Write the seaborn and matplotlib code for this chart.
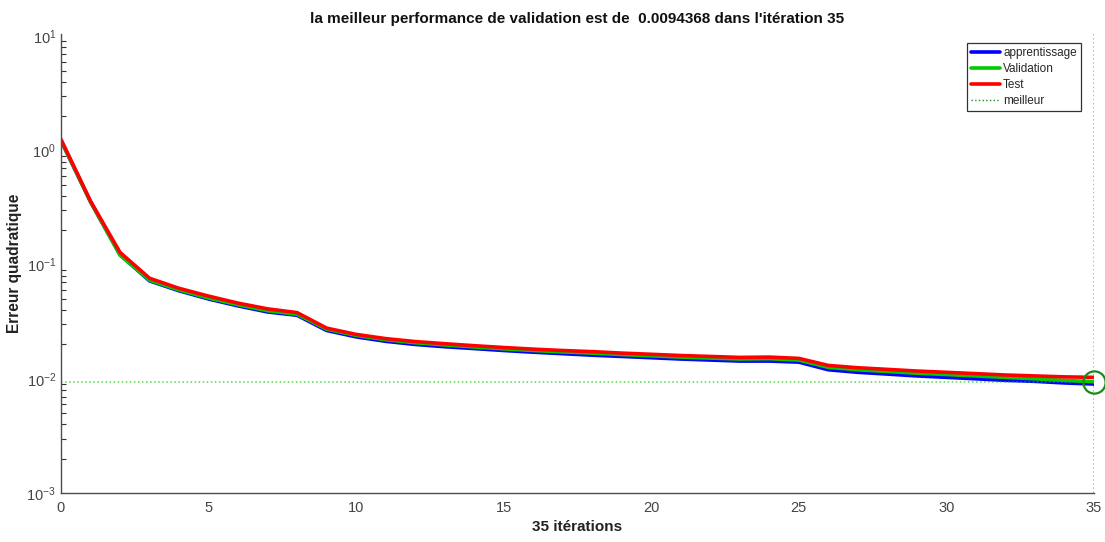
import numpy as np
import pandas as pd
import matplotlib
matplotlib.use("Agg")
import matplotlib.pyplot as plt
import seaborn as sns

# Mean squared error per training epoch
epochs = list(range(36))
train_err = [1.22, 0.355, 0.122, 0.072, 0.059, 0.050, 0.0435, 0.0385, 0.0360, 0.0265,
             0.0233, 0.0213, 0.0200, 0.0191, 0.0184, 0.0177, 0.0171, 0.0166, 0.0161, 0.0157,
             0.0153, 0.0149, 0.0146, 0.0143, 0.0143, 0.0140, 0.0120, 0.0114, 0.0110, 0.0106,
             0.0103, 0.0100, 0.0097, 0.0095, 0.0092, 0.0090]
val_err = [1.22, 0.355, 0.121, 0.073, 0.060, 0.051, 0.0445, 0.0395, 0.0368, 0.0272,
           0.0240, 0.0220, 0.0207, 0.0198, 0.0190, 0.0183, 0.0177, 0.0172, 0.0168, 0.0163,
           0.0159, 0.0155, 0.0152, 0.0149, 0.0150, 0.0146, 0.0126, 0.0120, 0.0116, 0.0112,
           0.0109, 0.0106, 0.0103, 0.0100, 0.0097, 0.0094368]
test_err = [1.25, 0.36, 0.128, 0.076, 0.062, 0.053, 0.046, 0.041, 0.038, 0.0278,
            0.0245, 0.0225, 0.0212, 0.0203, 0.0195, 0.0188, 0.0182, 0.0177, 0.0173, 0.0168,
            0.0164, 0.0160, 0.0157, 0.0154, 0.0155, 0.0151, 0.0131, 0.0125, 0.0121, 0.0117,
            0.0114, 0.0111, 0.0108, 0.0106, 0.0104, 0.0103]
series_names = ["apprentissage", "Validation", "Test"]
best_epoch = 35
best_perf = 0.0094368

df = pd.DataFrame({
    "epoch": epochs * 3,
    "err": train_err + val_err + test_err,
    "set": [series_names[0]] * 36 + [series_names[1]] * 36 + [series_names[2]] * 36,
})

sns.set_style("white")
plt.rcParams["font.family"] = ["Liberation Sans", "DejaVu Sans"]
plt.rcParams["mathtext.fontset"] = "custom"
plt.rcParams["mathtext.rm"] = "Liberation Sans"
plt.rcParams["mathtext.it"] = "Liberation Sans:italic"
plt.rcParams["mathtext.bf"] = "Liberation Sans:bold"

fig = plt.figure(figsize=(11.05, 5.42), dpi=100)
ax = fig.add_axes([0.0552, 0.0904, 0.9348, 0.8469])

palette = {"apprentissage": "#0000ff", "Validation": "#00cc00", "Test": "#ff0000"}
sns.lineplot(data=df, x="epoch", y="err", hue="set", hue_order=series_names,
             palette=palette, linewidth=2.6, ax=ax, legend=False)

best_col = "#00cc00"
ax.axhline(best_perf, color=best_col, linestyle=":", linewidth=1.1, alpha=0.7)
ax.axvline(best_epoch, color=best_col, linestyle=":", linewidth=1.1, alpha=0.7)
ax.plot([best_epoch], [best_perf], marker="o", markersize=16, markerfacecolor="none",
        markeredgecolor="#1a8a1a", markeredgewidth=1.6, clip_on=False, zorder=5)

ax.set_yscale("log")
ax.set_xlim(0, 35)
ax.set_ylim(1e-3, 10 ** 1.02)
ax.set_xticks(range(0, 36, 5))

for side in ("top", "right"):
    ax.spines[side].set_visible(False)
for side in ("left", "bottom"):
    ax.spines[side].set_color("#4d4d4d")
    ax.spines[side].set_linewidth(1.0)

ax.tick_params(axis="both", which="major", direction="in", length=7, width=0.9,
               colors="#333333", labelsize=10.5, labelcolor="#444444")
ax.tick_params(axis="y", which="minor", direction="in", length=3.5, width=0.8,
               colors="#333333", left=True)
ax.tick_params(axis="x", which="major", pad=6)

ax.set_title("la meilleur performance de validation est de  0.0094368 dans l'itération 35",
             fontsize=11, fontweight="bold", color="#111111", pad=8)
ax.set_xlabel("35 itérations", fontsize=11, fontweight="bold", color="#222222", labelpad=3)
ax.set_ylabel("Erreur quadratique", fontsize=11.2, fontweight="bold", color="#222222", labelpad=3)

handles = [
    plt.Line2D([], [], color=palette["apprentissage"], linewidth=2.6),
    plt.Line2D([], [], color=palette["Validation"], linewidth=2.6),
    plt.Line2D([], [], color=palette["Test"], linewidth=2.6),
    plt.Line2D([], [], color="#1a8a1a", linestyle=":", linewidth=1.0),
]
leg = ax.legend(handles, series_names + ["meilleur"], loc="upper right",
                bbox_to_anchor=(0.9874, 0.980), fontsize=8.5, frameon=True,
                fancybox=False, framealpha=1, edgecolor="#333333",
                handlelength=2.4, labelspacing=0.33, borderpad=0.35,
                handletextpad=0.3, borderaxespad=0)
leg.get_frame().set_linewidth(0.9)

fig.savefig("out.png", dpi=100)
